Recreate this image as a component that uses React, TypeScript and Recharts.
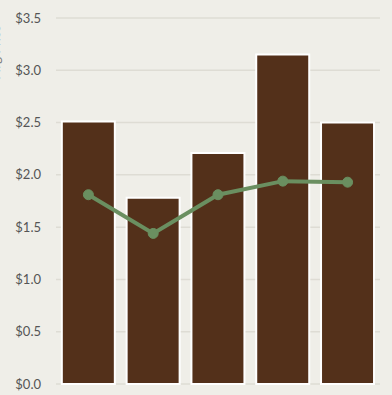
import React from 'react';
import { ComposedChart, Bar, Line, XAxis, YAxis, CartesianGrid, Label } from 'recharts';

const categories = ['A', 'B', 'C', 'D', 'E'];
const barValues = [2.51, 1.78, 2.21, 3.15, 2.5];
const lineValues = [1.81, 1.44, 1.81, 1.94, 1.93];
const yTicks = [0, 0.5, 1, 1.5, 2, 2.5, 3, 3.5];

const data = categories.map((c, i) => ({ name: c, bar: barValues[i], line: lineValues[i] }));

const AxisTitle = (props: any) => {
  const x = -0.5;
  const y = 52;
  return (
    <text x={x} y={y} transform={`rotate(-90, ${x}, ${y})`} textAnchor="middle" fill="#777" fontSize={13} fontFamily="Lato, sans-serif">
      Avg Price
    </text>
  );
};

export default function App() {
  return (
    <div style={{ position: 'absolute', left: 0, top: 0, width: 392, height: 395, background: '#efeee8' }}>
      <ComposedChart width={392} height={395} data={data} margin={{ top: 18, right: 12, bottom: 11, left: 0 }} barCategoryGap="9%">
        <CartesianGrid vertical={false} stroke="#dedcd4" strokeWidth={1.5} />
        <XAxis dataKey="name" hide />
        <YAxis
          domain={[0, 3.5]}
          ticks={yTicks}
          width={56}
          axisLine={false}
          tickLine={false}
          tickMargin={9}
          tickFormatter={(v: number) => `$${v.toFixed(1)}`}
          tick={{ fill: '#555', fontSize: 13, fontFamily: 'Lato, sans-serif' }}
        >
          <Label content={<AxisTitle />} />
        </YAxis>
        <Bar dataKey="bar" fill="#53301a" stroke="#ffffff" strokeWidth={2} isAnimationActive={false} />
        <Line dataKey="line" stroke="#6a8f60" strokeWidth={4} dot={{ r: 5, fill: '#6a8f60', stroke: '#6a8f60', strokeWidth: 1 }} isAnimationActive={false} />
      </ComposedChart>
    </div>
  );
}
